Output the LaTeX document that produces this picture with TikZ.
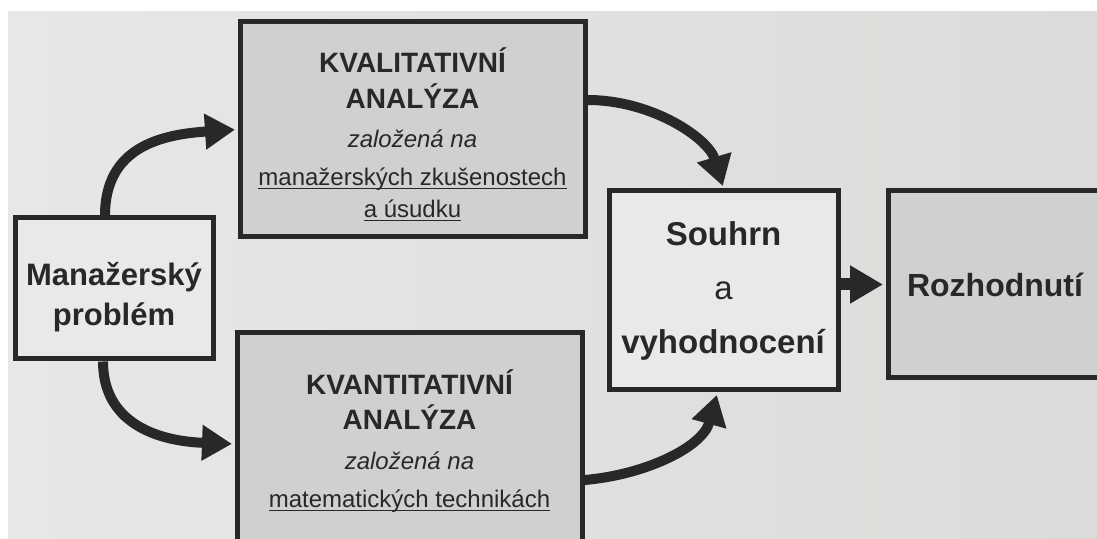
\documentclass[tikz,border=0pt]{standalone}
\usepackage{fontspec}
\setmainfont{Liberation Sans}
\usetikzlibrary{arrows.meta,calc}
\definecolor{paperleft}{RGB}{231,231,229}
\definecolor{paperright}{RGB}{220,219,217}
\definecolor{ink}{RGB}{40,40,40}
\definecolor{shade}{RGB}{208,208,206}
\definecolor{lightbox}{RGB}{233,233,231}
\newcommand{\headfont}{\fontsize{14}{17.5}\selectfont\bfseries}

\begin{document}
\begin{tikzpicture}[x=0.5pt, y=-0.5pt,
    plainbox/.style={draw=ink, line width=2.5pt, fill=lightbox, align=center, text=ink, inner sep=0pt},
    shadebox/.style={plainbox, fill=shade},
    flow/.style={draw=ink, line width=5pt, shorten >=1.25pt, -{Triangle[length=15pt, width=17pt]}},
    bigflow/.style={draw=ink, line width=6pt, shorten >=1.25pt, -{Triangle[length=16.5pt, width=18pt]}}
  ]
    \useasboundingbox (0,0) rectangle (1097,539);
    \clip (0,0) rectangle (1097,539);
    \fill[white] (0,0) rectangle (1097,539);
    \shade[left color=paperleft, right color=paperright] (8,12) rectangle (1097,539);

    \node[plainbox, minimum width=99pt, minimum height=70.5pt, font=\fontsize{15.5}{20}\selectfont\bfseries] (prob) at (114,288.5) {\rule{0pt}{20.5pt}Manažerský\\problém};
    \node[shadebox, minimum width=172.5pt, minimum height=107.5pt, font=\fontsize{12}{18}\selectfont] (kval) at (412.5,129.5) {{\headfont\rule{0pt}{17.5pt}KVALITATIVNÍ}\\{\headfont ANALÝZA}\\[1.5pt]\textit{založená na}\\[1pt] \underbar{manažerských zkušenostech}\\[-2pt] \underbar{a úsudku}};
    \node[shadebox, minimum width=172.5pt, minimum height=107.5pt, font=\fontsize{12}{17.5}\selectfont] (kvant) at (409.5,440.5) {{\headfont KVANTITATIVNÍ}\\{\headfont ANALÝZA}\\[2.5pt]\textit{založená na}\\[1.5pt] \underbar{matematických technikách}};
    \node[plainbox, minimum width=114.5pt, minimum height=99.5pt, font=\fontsize{16.5}{27}\selectfont] (souhrn) at (723.5,290.5) {\textbf{Souhrn}\\a\\\textbf{vyhodnocení}};
    \node[shadebox, minimum width=107pt, minimum height=93.5pt, font=\fontsize{16}{20}\selectfont\bfseries] (rozh) at (995,284.5) {Rozhodnutí};

    \draw[flow] ([xshift=-4.5pt]prob.north) .. controls +(0,-68) and +(-77,5) .. (kval.west);
    \draw[flow] ([xshift=-5.5pt]prob.south) .. controls +(0,60) and +(-80,-3) .. ([yshift=-1.75pt]kvant.west);
    \draw[flow] ([yshift=14.75pt]kval.east) .. controls +(65,0) and +(-15,-50) .. (souhrn.north);
    \draw[flow] ([yshift=-19.75pt]kvant.east) .. controls +(60,-5) and +(-15,55) .. ([xshift=-3pt]souhrn.south);
    \draw[bigflow] (souhrn.east |- rozh.west) -- (rozh.west);
  \end{tikzpicture}
\end{document}
